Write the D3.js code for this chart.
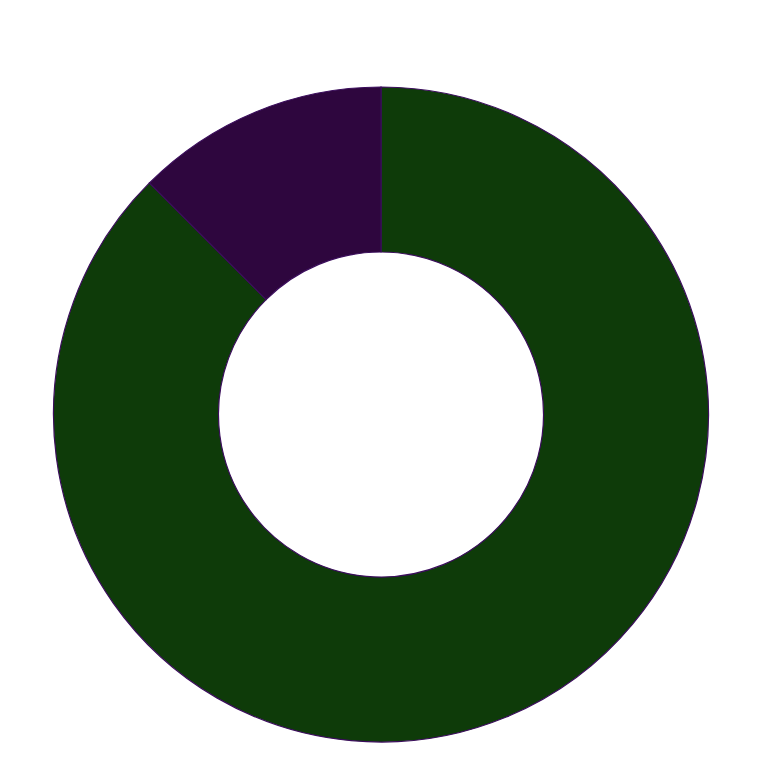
<!DOCTYPE html>
<html>
<head>
<meta charset="utf-8">
<script src="https://cdn.jsdelivr.net/npm/d3@7"></script>
<style>
  html, body { margin: 0; padding: 0; background: #fff; }
</style>
</head>
<body>
<div id="chart"></div>
<script>
// Slice data, in drawing order starting at 12 o'clock
const labels = ['A', 'B'];
const values = [87.5, 12.5];
const colors = ['#0e3b09', '#2e063e'];

const width = 763;
const height = 763;
const cx = 381;
const cy = 414.5;
const outerR = 327.5;
const innerR = 162.5;

const svg = d3.select('#chart')
  .append('svg')
  .attr('width', width)
  .attr('height', height);

const pie = d3.pie()
  .sort(null)
  .value(d => d.value);

const arc = d3.arc()
  .innerRadius(innerR)
  .outerRadius(outerR);

const data = labels.map((l, i) => ({ label: l, value: values[i], color: colors[i] }));

const g = svg.append('g')
  .attr('transform', `translate(${cx},${cy})`);

g.selectAll('path')
  .data(pie(data))
  .join('path')
  .attr('d', arc)
  .attr('fill', d => d.data.color)
  .attr('stroke', '#3b0d5c')
  .attr('stroke-width', 1.2);
</script>
</body>
</html>
